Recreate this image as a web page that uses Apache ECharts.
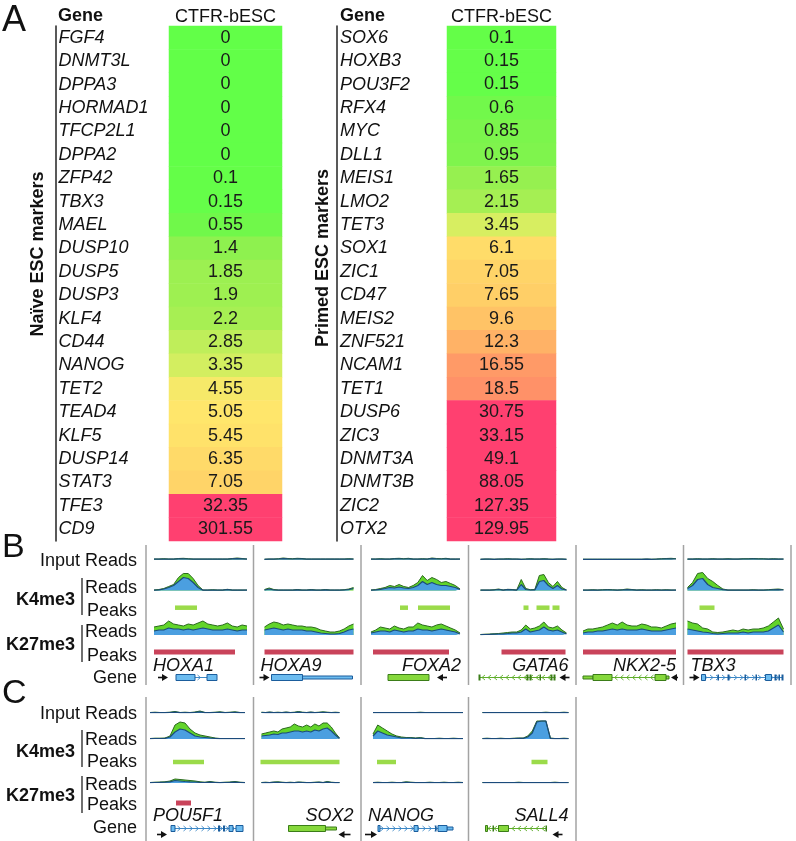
<!DOCTYPE html>
<html><head><meta charset="utf-8">
<script src="https://cdn.jsdelivr.net/npm/echarts@6/dist/echarts.min.js"></script>
<style>html,body{margin:0;padding:0;background:#fff}#c{width:796px;height:841px}</style>
</head><body><div id="c"></div>
<script>
// ---------------- Panel A data ----------------
const sampleName = 'CTFR-bESC';
const naiveGenes = ['FGF4','DNMT3L','DPPA3','HORMAD1','TFCP2L1','DPPA2','ZFP42','TBX3','MAEL','DUSP10','DUSP5','DUSP3','KLF4','CD44','NANOG','TET2','TEAD4','KLF5','DUSP14','STAT3','TFE3','CD9'];
const naiveValues = [0,0,0,0,0,0,0.1,0.15,0.55,1.4,1.85,1.9,2.2,2.85,3.35,4.55,5.05,5.45,6.35,7.05,32.35,301.55];
const primedGenes = ['SOX6','HOXB3','POU3F2','RFX4','MYC','DLL1','MEIS1','LMO2','TET3','SOX1','ZIC1','CD47','MEIS2','ZNF521','NCAM1','TET1','DUSP6','ZIC3','DNMT3A','DNMT3B','ZIC2','OTX2'];
const primedValues = [0.1,0.15,0.15,0.6,0.85,0.95,1.65,2.15,3.45,6.1,7.05,7.65,9.6,12.3,16.55,18.5,30.75,33.15,49.1,88.05,127.35,129.95];

// ---------------- Panel B / C data ----------------
const genesB = ['HOXA1','HOXA9','FOXA2','GATA6','NKX2-5','TBX3'];
const genesC = ['POU5F1','SOX2','NANOG','SALL4'];
const trackLabels = ['Input Reads','Reads','Peaks','Reads','Peaks','Gene'];
const markLabels = ['K4me3','K27me3'];

// read coverage profiles (green = total, blue = lower layer)
const HOXA1_in_g = [0.5,0.5,0.8,0.5,0.5,1,1.2,0.8,0.5,0.5,0.5,0.5,0.5,0.5,0.5,0.5,1,1.5,1,0.5];
const HOXA1_in_b = [0.3,0.3,0.5,0.3,0.3,0.6,0.7,0.5,0.3,0.3,0.3,0.3,0.3,0.3,0.3,0.3,0.6,0.9,0.6,0.3];
const HOXA1_k4_g = [0.5,1,2,4,6,13,17,17,12,5,0.5,0.5,0.8,0.5,0.5,1.2,0.5,0.5,0.5,0.5];
const HOXA1_k4_b = [0.3,0.6,1.5,3,5,9,13,12,8,3,0.3,0.3,0.5,0.3,0.3,0.8,0.3,0.3,0.3,0.3];
const HOXA1_k27_g = [8,9,10,14,11,10,9,11,10,12,14,11,10,9,10,12,9,8,10,9];
const HOXA1_k27_b = [4,5,5,7,6,6,5,6,5,6,7,6,5,5,5,6,5,4,5,5];

const HOXA9_in_g = [0.3,0.5,0.5,0.8,1.5,1,0.8,1.2,1,0.5,0.5,0.5,0.5,0.5,0.5,0.5,0.5,0.5,0.8,0.5];
const HOXA9_in_b = [0.2,0.3,0.3,0.5,0.9,0.6,0.5,0.7,0.6,0.3,0.3,0.3,0.3,0.3,0.3,0.3,0.3,0.3,0.5,0.3];
const HOXA9_k4_g = [1,2.5,1,0.5,0.5,0.5,0.5,1,0.5,0.5,1,0.5,0.5,1,0.5,0.5,0.5,0.8,1.5,3];
const HOXA9_k4_b = [0.5,1.5,0.5,0.3,0.3,0.3,0.3,0.6,0.3,0.3,0.6,0.3,0.3,0.6,0.3,0.3,0.3,0.5,1,2];
const HOXA9_k27_g = [8,11,13,12,10,11,10,9,9,8,8,7,5,4,3,3,4,6,9,11];
const HOXA9_k27_b = [5,6,7,6,5,6,5,5,5,4,4,3,2,1.5,1,1,1.5,3,5,6];

const FOXA2_in_g = [0.5,0.5,0.8,0.5,0.5,1,1.2,0.8,1.2,0.5,0.5,0.8,0.5,1.5,1,0.8,1.2,0.5,0.5,0.5];
const FOXA2_in_b = [0.3,0.3,0.5,0.3,0.3,0.6,0.7,0.5,0.7,0.3,0.3,0.5,0.3,0.9,0.6,0.5,0.7,0.3,0.3,0.3];
const FOXA2_k4_g = [0.5,1,2,3,5,4,6,4,3,5,8,15,10,13,11,8,9,7,5,1.5];
const FOXA2_k4_b = [0.3,0.6,1.2,2,3,2.5,3.5,2.5,2,3,5,9,6,8,6,5,5,4,3,1];
const FOXA2_k27_g = [3,5,8,7,6,9,7,6,8,8,12,10,9,8,10,11,9,7,5,2];
const FOXA2_k27_b = [2,3,4,4,3,5,4,3,4,4,6,5,5,4,5,6,5,4,3,1];

const GATA6_in_g = [0.3,0.5,0.5,0.3,0.5,0.5,0.8,0.5,0.5,0.3,0.5,0.8,0.5,0.5,0.8,0.5,0.3,0.5,0.5,0.3];
const GATA6_in_b = [0.2,0.3,0.3,0.2,0.3,0.3,0.5,0.3,0.3,0.2,0.3,0.5,0.3,0.3,0.5,0.3,0.2,0.3,0.3,0.2];
const GATA6_k4_g = [0.5,0.5,0.5,0.8,1.5,0.5,1.2,1,0.5,11,2,0.8,1,15,16,8,4,9,3,0.5];
const GATA6_k4_b = [0.3,0.3,0.3,0.5,1,0.3,0.8,0.6,0.3,6,1,0.5,0.6,9,10,5,2,5,1.5,0.3];
const GATA6_k27_g = [0.5,0.8,1,1.2,1.5,2,2.5,3,3,5,10,6,7,9,13,8,7,9,5,2];
const GATA6_k27_b = [0.3,0.5,0.6,0.8,1,1.2,1.5,2,2,3,6,3,4,5,8,5,4,5,3,1];

const NKX25_in_g = [0.3,0.3,0.3,0.3,0.3,0.3,0.3,0.3,0.3,0.3,0.3,0.3,0.3,0.5,0.3,0.5,0.8,1,1.2,0.8];
const NKX25_in_b = [0.2,0.2,0.2,0.2,0.2,0.2,0.2,0.2,0.2,0.2,0.2,0.2,0.2,0.3,0.2,0.3,0.5,0.6,0.7,0.5];
const NKX25_k4_g = [0.5,0.5,0.8,0.5,0.8,1,0.8,0.5,0.8,1.5,1,0.5,0.8,0.5,0.5,0.8,0.5,0.8,0.5,0.5];
const NKX25_k4_b = [0.3,0.3,0.5,0.3,0.5,0.6,0.5,0.3,0.5,0.9,0.6,0.3,0.5,0.3,0.3,0.5,0.3,0.5,0.3,0.3];
const NKX25_k27_g = [4,6,6,7,8,10,12,10,13,10,9,9,11,10,8,8,7,9,11,12];
const NKX25_k27_b = [2,3,3,4,4,5,6,5,6,5,5,5,6,5,4,4,4,5,6,7];

const TBX3_in_g = [0.5,0.5,0.8,0.5,0.5,0.8,0.5,0.5,0.8,0.5,0.5,0.8,0.8,1,0.8,0.8,0.5,0.8,0.5,0.5];
const TBX3_in_b = [0.3,0.3,0.5,0.3,0.3,0.5,0.3,0.3,0.5,0.3,0.3,0.5,0.5,0.6,0.5,0.5,0.3,0.5,0.3,0.3];
const TBX3_k4_g = [3,8,17,18,12,9,5,1.5,0.5,0.5,0.5,0.5,0.5,0.8,0.5,0.5,0.8,1.2,1.5,0.8];
const TBX3_k4_b = [2,5,11,12,6,3,2,0.8,0.3,0.3,0.3,0.3,0.3,0.5,0.3,0.3,0.5,0.7,0.9,0.5];
const TBX3_k27_g = [14,12,11,7,6,3,2.5,3,4,5,4,6,5,6,6,7,9,13,17,6];
const TBX3_k27_b = [6,5,4,3,2.5,1.5,1,1.5,2,2,2,3,2,3,3,3,4,7,10,3];

const POU5F1_in_g = [0.5,0.8,0.5,0.5,0.8,1.5,0.5,0.8,0.5,1,2,0.5,0.5,0.8,1.2,0.5,0.8,1.2,0.5,0.5];
const POU5F1_in_b = [0.3,0.5,0.3,0.3,0.5,0.9,0.3,0.5,0.3,0.6,1.2,0.3,0.3,0.5,0.7,0.3,0.5,0.7,0.3,0.3];
const POU5F1_k4_g = [0.5,0.8,0.8,1,3,14,17,16,10,6,4,3,2,1,0.5,0.5,0.5,0.5,0.5,0.5];
const POU5F1_k4_b = [0.3,0.5,0.5,0.6,2,7,10,9,6,3,2,1.5,1,0.6,0.3,0.3,0.3,0.3,0.3,0.3];
const POU5F1_k27_g = [0.5,0.8,1,1.2,2,4,3.5,3,2.5,2,1.2,0.8,1.5,0.8,0.5,0.8,1,1.5,0.8,0.5];
const POU5F1_k27_b = [0.3,0.5,0.6,0.8,1.2,2.5,2,1.5,1.2,1,0.7,0.5,0.9,0.5,0.3,0.5,0.6,0.9,0.5,0.3];

const SOX2_in_g = [0.8,0.5,1,0.5,0.8,0.5,1,0.5,0.8,1.5,0.8,0.5,1,0.5,0.8,1.2,0.8,0.5,0.8,0.5];
const SOX2_in_b = [0.5,0.3,0.6,0.3,0.5,0.3,0.6,0.3,0.5,0.9,0.5,0.3,0.6,0.3,0.5,0.7,0.5,0.3,0.5,0.3];
const SOX2_k4_g = [5,6,7,8,7,10,11,12,15,13,12,14,12,15,13,16,16,12,6,1];
const SOX2_k4_b = [3,3.5,4,5,4.5,6,6,7,8,8,7,8,7,9,8,10,11,8,4,0.5];
const SOX2_k27_g = [0.5,0.8,0.5,1,1.2,0.8,0.5,0.8,0.5,1,0.8,0.5,0.5,0.8,1,0.5,1.5,0.8,0.5,0.5];
const SOX2_k27_b = [0.3,0.5,0.3,0.6,0.7,0.5,0.3,0.5,0.3,0.6,0.5,0.3,0.3,0.5,0.6,0.3,0.9,0.5,0.3,0.3];

const NANOG_in_g = [0.5,0.5,0.5,0.5,0.5,0.5,0.5,0.5,0.5,0.5,0.8,0.5,0.5,0.5,0.5,0.5,0.5,0.5,0.5,0.5];
const NANOG_in_b = [0.3,0.3,0.3,0.3,0.3,0.3,0.3,0.3,0.3,0.3,0.5,0.3,0.3,0.3,0.3,0.3,0.3,0.3,0.3,0.3];
const NANOG_k4_g = [5,14,11,8,5,3,2,1.5,1.5,1,1.5,0.5,0.5,0.5,0.8,0.5,0.5,0.8,0.5,0.5];
const NANOG_k4_b = [3,8,6,4,3,2,1,1,1,0.6,1,0.3,0.3,0.3,0.5,0.3,0.3,0.5,0.3,0.3];
const NANOG_k27_g = [0.5,0.8,0.5,0.5,0.8,0.5,0.5,1.2,0.8,0.5,0.5,0.5,0.8,0.5,0.5,0.8,0.5,0.5,0.8,0.5];
const NANOG_k27_b = [0.3,0.5,0.3,0.3,0.5,0.3,0.3,0.7,0.5,0.3,0.3,0.3,0.5,0.3,0.3,0.5,0.3,0.3,0.5,0.3];

const SALL4_in_g = [0.5,0.5,0.5,0.5,0.5,0.5,0.5,0.5,0.5,0.5,0.5,0.5,0.5,0.5,0.8,0.5,0.5,0.5,0.8,0.5];
const SALL4_in_b = [0.3,0.3,0.3,0.3,0.3,0.3,0.3,0.3,0.3,0.3,0.3,0.3,0.3,0.3,0.5,0.3,0.3,0.3,0.5,0.3];
const SALL4_k4_g = [0.5,0.8,0.5,0.5,0.8,0.5,0.5,0.8,1,1,3,8,18,18,18,1,0.5,0.5,0.8,0.5];
const SALL4_k4_b = [0.3,0.5,0.3,0.3,0.5,0.3,0.3,0.5,0.6,0.6,2,6,17,18,18,0.5,0.3,0.3,0.5,0.3];
const SALL4_k27_g = [0.5,0.5,0.5,0.5,0.5,0.5,0.5,0.5,0.8,0.5,0.5,0.5,0.5,0.5,0.5,0.5,0.8,0.5,0.5,0.5];
const SALL4_k27_b = [0.3,0.3,0.3,0.3,0.3,0.3,0.3,0.3,0.5,0.3,0.3,0.3,0.3,0.3,0.3,0.3,0.5,0.3,0.3,0.3];

// peak intervals (column-relative coordinates)
const HOXA1_k4pk = [[29,51]];        const HOXA1_k27pk = [[8,89]];
const HOXA9_k4pk = [];               const HOXA9_k27pk = [[11,100]];
const FOXA2_k4pk = [[39,47],[57,89]]; const FOXA2_k27pk = [[12,88]];
const GATA6_k4pk = [[55,60],[68,81],[84,91]]; const GATA6_k27pk = [[33,97]];
const NKX25_k4pk = [];               const NKX25_k27pk = [[7,100]];
const TBX3_k4pk = [[16,31]];         const TBX3_k27pk = [[4,100]];
const POU5F1_k4pk = [[27,58]];       const POU5F1_k27pk = [[30,45]];
const SOX2_k4pk = [[7,86]];          const SOX2_k27pk = [];
const NANOG_k4pk = [[16,35]];        const NANOG_k27pk = [];
const SALL4_k4pk = [[63,79]];        const SALL4_k27pk = [];

// gene models: [start, end, part]
const INTRON = 0, EXON = 1, UTR = 2, TICK = 3, FWD = 4, REV = 5;
const HOXA1_gene = [[49,61,INTRON],[30,49,EXON],[61,71,EXON],[12,22,FWD]];
const HOXA9_gene = [[49,99,UTR],[18,49,EXON],[6,16,FWD]];
const FOXA2_gene = [[27,68,EXON],[76,86,REV]];
const GATA6_gene = [[11,87,INTRON],[10,12,TICK],[58,60,TICK],[61,63,TICK],[71,72,TICK],[82,84,TICK],[85,87,TICK],[91,101,REV]];
const NKX25_gene = [[36,79,INTRON],[7,17,UTR],[90,93,UTR],[17,36,EXON],[79,90,EXON],[95,102,REV]];
const TBX3_gene = [[18,99,INTRON],[18,22,EXON],[34,35,TICK],[44,46,TICK],[61,62,TICK],[72,73,TICK],[82,88,EXON],[91,93,TICK],[95,96,TICK],[98,100,TICK],[6,16,FWD]];
const POU5F1_gene = [[29,97,INTRON],[25,29,EXON],[72,74,TICK],[77,79,TICK],[83,87,EXON],[90,97,EXON],[11,21,FWD]];
const SOX2_gene = [[72,83,UTR],[35,72,EXON],[85,97,REV]];
const NANOG_gene = [[17,86,INTRON],[86,92,UTR],[17,19,EXON],[53,57,EXON],[74,75,TICK],[77,86,EXON],[4,16,FWD]];
const SALL4_gene = [[17,78,INTRON],[17,19,EXON],[24,25,TICK],[30,40,EXON],[77,78,TICK],[84,94,REV]];

// ---------------- build ----------------
const FONT = "'Liberation Sans', Arial, Helvetica, sans-serif";
const colsB = [
  {name:'HOXA1', tr:[[HOXA1_in_g,HOXA1_in_b],[HOXA1_k4_g,HOXA1_k4_b],[HOXA1_k27_g,HOXA1_k27_b]], k4:HOXA1_k4pk, k27:HOXA1_k27pk, gene:HOXA1_gene},
  {name:'HOXA9', tr:[[HOXA9_in_g,HOXA9_in_b],[HOXA9_k4_g,HOXA9_k4_b],[HOXA9_k27_g,HOXA9_k27_b]], k4:HOXA9_k4pk, k27:HOXA9_k27pk, gene:HOXA9_gene},
  {name:'FOXA2', tr:[[FOXA2_in_g,FOXA2_in_b],[FOXA2_k4_g,FOXA2_k4_b],[FOXA2_k27_g,FOXA2_k27_b]], k4:FOXA2_k4pk, k27:FOXA2_k27pk, gene:FOXA2_gene},
  {name:'GATA6', tr:[[GATA6_in_g,GATA6_in_b],[GATA6_k4_g,GATA6_k4_b],[GATA6_k27_g,GATA6_k27_b]], k4:GATA6_k4pk, k27:GATA6_k27pk, gene:GATA6_gene},
  {name:'NKX2-5', tr:[[NKX25_in_g,NKX25_in_b],[NKX25_k4_g,NKX25_k4_b],[NKX25_k27_g,NKX25_k27_b]], k4:NKX25_k4pk, k27:NKX25_k27pk, gene:NKX25_gene},
  {name:'TBX3', tr:[[TBX3_in_g,TBX3_in_b],[TBX3_k4_g,TBX3_k4_b],[TBX3_k27_g,TBX3_k27_b]], k4:TBX3_k4pk, k27:TBX3_k27pk, gene:TBX3_gene}
];
const colsC = [
  {name:'POU5F1', tr:[[POU5F1_in_g,POU5F1_in_b],[POU5F1_k4_g,POU5F1_k4_b],[POU5F1_k27_g,POU5F1_k27_b]], k4:POU5F1_k4pk, k27:POU5F1_k27pk, gene:POU5F1_gene},
  {name:'SOX2', tr:[[SOX2_in_g,SOX2_in_b],[SOX2_k4_g,SOX2_k4_b],[SOX2_k27_g,SOX2_k27_b]], k4:SOX2_k4pk, k27:SOX2_k27pk, gene:SOX2_gene},
  {name:'NANOG', tr:[[NANOG_in_g,NANOG_in_b],[NANOG_k4_g,NANOG_k4_b],[NANOG_k27_g,NANOG_k27_b]], k4:NANOG_k4pk, k27:NANOG_k27pk, gene:NANOG_gene},
  {name:'SALL4', tr:[[SALL4_in_g,SALL4_in_b],[SALL4_k4_g,SALL4_k4_b],[SALL4_k27_g,SALL4_k27_b]], k4:SALL4_k4pk, k27:SALL4_k27pk, gene:SALL4_gene}
];
// layout (pixels)
const COLW = 107.5, COL0 = 146;
const layoutB = {top:545, bottom:685, base:[559.5,590.5,635], k4pk:607.7, k27pk:652, name:666, gene:677.5, arrowDy:0,
  insets:[[8,101],[11,100],[10,99],[12,98],[7,100],[4,100]], nameAlign:['left','left','right','right','right','left'],
  pal:['b','b','g','g','g','b'], strand:[1,1,-1,-1,-1,1],
  labelY:[561,588,611,632,656,678], markY:[600,645], brackets:[[578,615],[625,662]], letter:'B', letterY:548};
const layoutC = {top:697, bottom:841, base:[713,739,783], k4pk:762, k27pk:803, name:816, gene:828.5, arrowDy:6,
  insets:[[4,99],[8,86],[12,102],[14,100]], nameAlign:['left','right','left','right'],
  pal:['b','g','b','g'], strand:[1,-1,1,-1],
  labelY:[714,740,762,785,805,828], markY:[752,796], brackets:[[730,767],[776,813]], letter:'C', letterY:694};
const PAL = {
  b:{fill:'#6cbcf0', stroke:'#1b5d9c', chev:'#3d88c6'},
  g:{fill:'#86d83c', stroke:'#3b7d18', chev:'#5fae2a'}
};

const grids=[], xAxes=[], yAxes=[], series=[], graphic=[];
function txt(text, x, y, o) {
  o = o || {};
  graphic.push({type:'text', x, y, rotation:o.rot||0, silent:true, style:{text, fill:o.color||'#111', fontSize:o.size||18,
    fontWeight:o.weight||'normal', fontStyle:o.style||'normal', fontFamily:FONT, align:o.align||'left', verticalAlign:'middle'}});
}
function vline(x, y1, y2, color, w) {
  graphic.push({type:'line', silent:true, shape:{x1:x, y1, x2:x, y2}, style:{stroke:color, lineWidth:w}});
}

// heatmaps
function heat(genes, values, left, width, axisX) {
  const gi = grids.length;
  grids.push({left, top:26, width, height:515});
  xAxes.push({gridIndex:gi, type:'category', data:[sampleName], position:'top', axisLine:{show:false}, axisTick:{show:false},
    axisLabel:{fontSize:18, color:'#111', margin:0, fontFamily:FONT}});
  yAxes.push({gridIndex:gi, type:'category', data:genes, inverse:true, offset:left-axisX,
    axisLine:{show:true, lineStyle:{color:'#222', width:1.5}}, axisTick:{show:false}, splitLine:{show:false},
    axisLabel:{interval:0, align:'left', margin:-3, fontStyle:'italic', fontSize:18, color:'#111', fontFamily:FONT}});
  series.push({type:'heatmap', xAxisIndex:gi, yAxisIndex:gi,
    data: values.map((v,i)=>[0, i, Math.min(Math.log1p(v), 3.4), v]),
    label:{show:true, formatter:p=>String(p.value[3]), fontSize:18, color:'#1a1a1a', fontFamily:FONT},
    itemStyle:{borderWidth:0}, emphasis:{disabled:true}, silent:true});
}
heat(naiveGenes, naiveValues, 169, 113, 55.5);
heat(primedGenes, primedValues, 447, 109, 337);
txt('A', 2, 21, {size:36});
txt('Gene', 58, 16, {weight:'bold'});
txt('Gene', 340, 16, {weight:'bold'});
txt('Naïve ESC markers', 38, 254, {weight:'bold', align:'center', rot:Math.PI/2});
txt('Primed ESC markers', 323, 258, {weight:'bold', align:'center', rot:Math.PI/2});

// tracks
function track(left, width, baseline, g, b) {
  const gi = grids.length;
  grids.push({left, width, top:baseline-20, height:20});
  xAxes.push({gridIndex:gi, type:'category', boundaryGap:false, data:g.map((_,i)=>i), show:false});
  yAxes.push({gridIndex:gi, type:'value', min:0, max:20, show:false});
  series.push({type:'line', xAxisIndex:gi, yAxisIndex:gi, data:g, symbol:'none', silent:true,
    lineStyle:{color:'#2c6a20', width:1}, areaStyle:{color:'#62d42a', opacity:1}});
  series.push({type:'line', xAxisIndex:gi, yAxisIndex:gi, data:b, symbol:'none', silent:true,
    lineStyle:{color:'#1b4b7b', width:1.2}, areaStyle:{color:'#4b9fe0', opacity:1}});
}
function annot(L, lay, col, ci) {
  const gi = grids.length;
  grids.push({left:L, width:COLW, top:lay.top, height:lay.bottom-lay.top});
  xAxes.push({gridIndex:gi, type:'value', min:0, max:COLW, show:false});
  yAxes.push({gridIndex:gi, type:'value', min:0, max:1, show:false});
  const pk = col.k4.map(p=>[p[0],p[1],0]).concat(col.k27.map(p=>[p[0],p[1],1]));
  series.push({type:'custom', xAxisIndex:gi, yAxisIndex:gi, data:pk, clip:false, silent:true,
    renderItem:(params, api)=>{
      const x0 = api.coord([api.value(0),0])[0], x1 = api.coord([api.value(1),0])[0];
      const red = api.value(2) === 1;
      const y = red ? lay.k27pk : lay.k4pk, h = red ? 5 : 4.5;
      return {type:'rect', shape:{x:x0, y:y-h/2, width:x1-x0, height:h}, style:{fill: red ? '#c9435a' : '#9bdb4a'}};
    }});
  const pal = PAL[lay.pal[ci]], strand = lay.strand[ci];
  series.push({type:'custom', xAxisIndex:gi, yAxisIndex:gi, data:col.gene, clip:false, silent:true,
    renderItem:(params, api)=>{
      const x0 = api.coord([api.value(0),0])[0], x1 = api.coord([api.value(1),0])[0];
      const k = api.value(2), y = lay.gene;
      if (k === INTRON) {
        const ch = [{type:'line', shape:{x1:x0,y1:y,x2:x1,y2:y}, style:{stroke:pal.chev, lineWidth:1}}];
        for (let cx = x0 + 4; cx < x1 - 2; cx += 6) {
          ch.push({type:'polyline', shape:{points:[[cx-1.5*strand,y-2.5],[cx+1.5*strand,y],[cx-1.5*strand,y+2.5]]},
            style:{stroke:pal.chev, lineWidth:0.9, fill:null}});
        }
        return {type:'group', children:ch};
      }
      if (k === EXON) return {type:'rect', shape:{x:x0, y:y-3, width:x1-x0, height:6}, style:{fill:pal.fill, stroke:pal.stroke, lineWidth:1}};
      if (k === UTR) return {type:'rect', shape:{x:x0, y:y-1.5, width:x1-x0, height:3}, style:{fill:pal.fill, stroke:pal.stroke, lineWidth:1}};
      if (k === TICK) return {type:'rect', shape:{x:x0, y:y-3, width:Math.max(x1-x0,1.5), height:6}, style:{fill:pal.stroke}};
      const ya = y + lay.arrowDy;
      if (k === FWD) return {type:'group', children:[
        {type:'line', shape:{x1:x0,y1:ya,x2:x1-5,y2:ya}, style:{stroke:'#111', lineWidth:1.6}},
        {type:'polygon', shape:{points:[[x1,ya],[x1-6,ya-3.5],[x1-6,ya+3.5]]}, style:{fill:'#111'}}]};
      return {type:'group', children:[
        {type:'line', shape:{x1:x0+5,y1:ya,x2:x1,y2:ya}, style:{stroke:'#111', lineWidth:1.6}},
        {type:'polygon', shape:{points:[[x0,ya],[x0+6,ya-3.5],[x0+6,ya+3.5]]}, style:{fill:'#111'}}]};
    }});
}
function panel(cols, lay) {
  cols.forEach((col, ci) => {
    const L = COL0 + ci*COLW;
    const ins = lay.insets[ci];
    col.tr.forEach((t, ti) => track(L+ins[0], ins[1]-ins[0], lay.base[ti], t[0], t[1]));
    annot(L, lay, col, ci);
    const al = lay.nameAlign[ci];
    txt(col.name, al === 'left' ? L+7 : L+100, lay.name, {style:'italic', align:al});
  });
  for (let i = 0; i <= cols.length; i++) vline(COL0 + i*COLW, lay.top, lay.bottom, '#a3a3a3', 1.5);
  trackLabels.forEach((t, i) => txt(t, 137, lay.labelY[i], {align:'right'}));
  markLabels.forEach((t, i) => txt(t, 75, lay.markY[i], {align:'right', weight:'bold'}));
  lay.brackets.forEach(b => vline(82, b[0], b[1], '#222', 1.3));
  txt(lay.letter, 2, lay.letterY, {size:34});
}
panel(colsB, layoutB);
panel(colsC, layoutC);

const chart = echarts.init(document.getElementById('c'), null, {renderer:'canvas'});
chart.setOption({
  animation:false,
  backgroundColor:'#ffffff',
  textStyle:{fontFamily:FONT},
  grid:grids, xAxis:xAxes, yAxis:yAxes,
  visualMap:{type:'continuous', show:false, min:0, max:3.4, dimension:2, seriesIndex:[0,1],
    inRange:{color:['#62ff48','#66fd49','#6ef94a','#7af54c','#88f24e','#98f050','#aaef54','#c6ee5c','#eaee66',
      '#ffe66b','#ffda69','#ffcc67','#ffc166','#ffb166','#ff9f66','#ff8f68','#ff6a6c','#ff4070']}},
  series, graphic
});
</script>
</body></html>
